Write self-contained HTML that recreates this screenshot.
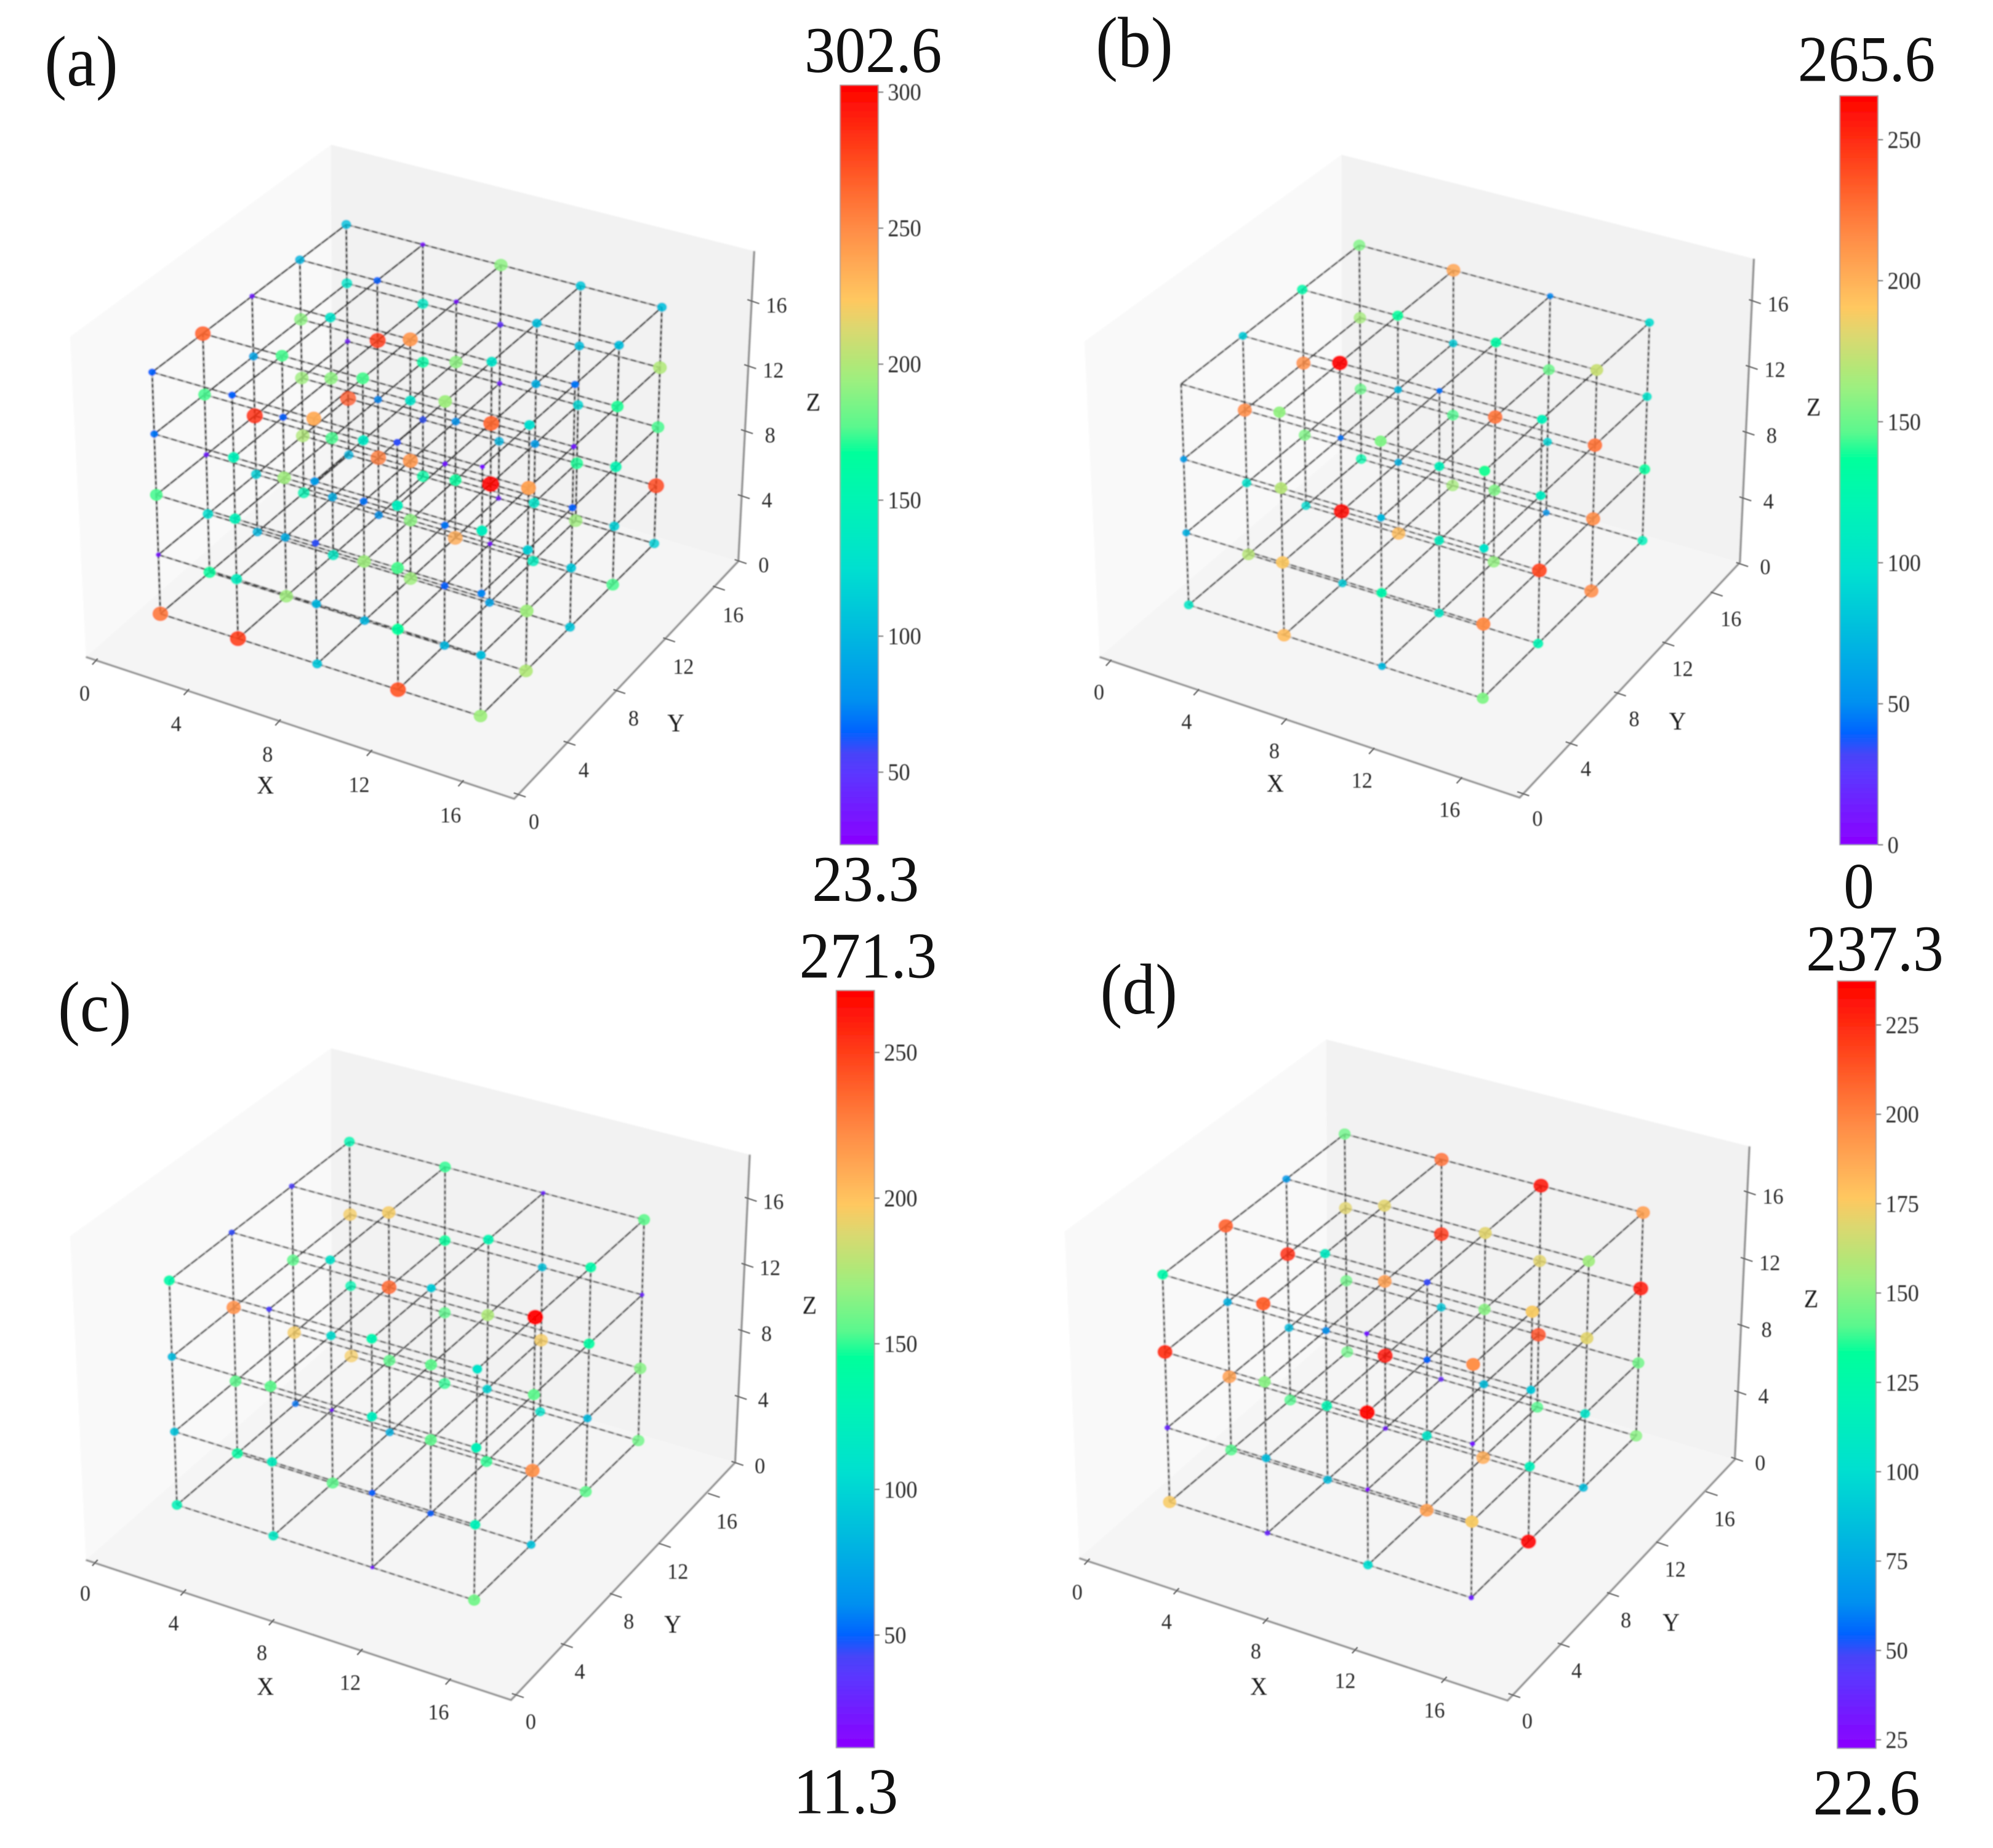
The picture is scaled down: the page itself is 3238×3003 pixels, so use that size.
<!DOCTYPE html>
<html lang="en">
<head>
<meta charset="utf-8">
<title>3D lattice node values, panels a to d</title>
<style>
html,body{margin:0;padding:0;background:#fff;}
svg{display:block;position:absolute;left:0;top:0;}
text{font-family:"Liberation Serif",serif;}
.big{font-size:96px;fill:#111;text-anchor:middle;}
.letter{font-size:104px;fill:#111;}
</style>
</head>
<body>
<svg id="chart" xmlns="http://www.w3.org/2000/svg" width="3238" height="3003" viewBox="0 0 3238 3003">
<defs>
<filter id="soft" x="-5%" y="-5%" width="110%" height="110%"><feGaussianBlur stdDeviation="1.1"/></filter>
<filter id="softText" x="-5%" y="-5%" width="110%" height="110%"><feGaussianBlur stdDeviation="0.8"/></filter>
</defs>
<rect width="3238" height="3003" fill="#fff"/>

<g id="panel-a" transform="translate(0,0) scale(1.034,0.96)">
<text class="letter" transform="translate(70,145) scale(1,1.17)">(a)</text>
<text class="big" transform="translate(1372,122) scale(1,1.15)">302.6</text>
<text class="big" transform="translate(1360,1525) scale(1,1.15)">23.3</text>
</g>
<g id="panel-b" transform="translate(1619,0) scale(1.034,0.96)">
<text class="letter" transform="translate(156,113) scale(1,1.17)">(b)</text>
<text class="big" transform="translate(1367,137) scale(1,1.15)">265.6</text>
<text class="big" transform="translate(1355,1537) scale(1,1.15)">0</text>
</g>
<g id="panel-c" transform="translate(0,1500) scale(1.034,0.96)">
<text class="letter" transform="translate(91,183) scale(1,1.17)">(c)</text>
<text class="big" transform="translate(1364,92) scale(1,1.15)">271.3</text>
<text class="big" transform="translate(1329,1507) scale(1,1.15)">11.3</text>
</g>
<g id="panel-d" transform="translate(1619,1500) scale(1.034,0.96)">
<text class="letter" transform="translate(163,153) scale(1,1.17)">(d)</text>
<text class="big" transform="translate(1380,80) scale(1,1.15)">237.3</text>
<text class="big" transform="translate(1367,1509) scale(1,1.15)">22.6</text>
</g>
</svg>

<script>
// Axis tick labels shared by the 3D axes
const axisTicks = [0, 4, 8, 12, 16];

// Colorbar limits [min, max]
const panelALimits = [23.3, 302.6];
const panelBLimits = [0, 265.6];
const panelCLimits = [11.3, 271.3];
const panelDLimits = [22.6, 237.3];

// Colorbar tick labels
const panelAColorTicks = [50, 100, 150, 200, 250, 300];
const panelBColorTicks = [0, 50, 100, 150, 200, 250];
const panelCColorTicks = [50, 100, 150, 200, 250];
const panelDColorTicks = [25, 50, 75, 100, 125, 150, 175, 200, 225];

// Node values: [x index][y index][z layer, top layer first]
const panelAValues = [
  [[65,70,175,30,260],[265,175,35,125,165],[35,90,285,115,100],[100,190,195,200,150],[105,130,35,270,100]],
  [[65,145,145,140,280],[175,65,195,95,195],[130,190,175,95,135],[65,280,75,255,80],[30,135,160,60,160]],
  [[235,85,60,100,110],[175,135,70,195,100],[245,130,245,190,195],[30,190,80,165,235],[190,45,35,100,35]],
  [[60,140,175,165,270],[195,35,70,65,100],[130,265,302,30,90],[105,95,85,130,140],[110,105,120,170,195]],
  [[30,140,75,105,195],[125,240,115,195,200],[70,35,65,110,110],[105,170,150,115,175],[105,200,175,275,115]]
];
const panelBValues = [
  [[0,60,70,105],[85,215,100,170],[125,215,155,95],[155,165,150,125]],
  [[160,170,190,195],[265,45,262,85],[135,75,70,195],[205,85,145,165]],
  [[155,75,125,75],[45,115,110,105],[130,225,155,160],[50,150,90,55]],
  [[140,100,215,155],[115,110,240,120],[175,225,215,215],[95,100,135,115]]
];
const panelCValues = [
  [[135,85,90,125],[45,220,155,140],[40,155,195,55],[130,195,130,195]],
  [[40,155,120,115],[110,105,20,155],[195,235,155,80],[150,145,155,150]],
  [[130,120,50,20],[95,155,155,50],[130,175,100,150],[25,90,195,110]],
  [[110,125,125,160],[271,155,220,90],[135,140,85,155],[155,25,165,160]]
];
const panelDValues = [
  [[125,225,35,175],[210,80,190,140],[70,225,85,140],[145,170,145,145]],
  [[210,150,85,35],[110,65,120,85],[170,190,232,30],[205,222,90,35]],
  [[30,235,23,100],[50,55,105,190],[170,150,85,185],[232,170,215,140]],
  [[195,30,175,33],[175,90,115,235],[155,170,105,85],[190,230,145,150]]
];

// Colormap stops: [fraction, red, green, blue]
const colormapStops = [
  [0, 139, 0, 255], [0.096, 90, 56, 255], [0.12, 72, 68, 248], [0.15, 0, 100, 255],
  [0.19, 0, 144, 240], [0.275, 0, 184, 224], [0.364, 0, 224, 208], [0.454, 0, 245, 180],
  [0.515, 0, 255, 156], [0.55, 90, 248, 142], [0.61, 156, 240, 128], [0.632, 176, 232, 120],
  [0.68, 220, 216, 112], [0.717, 255, 200, 96], [0.754, 255, 176, 88], [0.811, 255, 140, 70],
  [0.86, 255, 106, 48], [0.92, 255, 60, 24], [1, 255, 0, 0]
];

// Panel geometry (layout only), in panel-local units
const layoutA = {
  id:'panel-a', sizeK:1.55, lineOpacity:1,
  c000:[252,1039], c100:[755,1212], c110:[1028,920], c010:[548,770],
  c001:[239,630], c101:[758,790], c111:[1040,520], c011:[544,380],
  wall:{tf:[110,570],tb:[520,245],tr:[1185,425],br:[1160,950],ff:[135,1112],fr:[808,1352],back:[522,745]},
  xAxis:[[150,1119],[725,1325]], yAxis:[[815,1345],[1128,995]], zAxis:[[1162,950],[1182,510]],
  xLabel:[417,1343], yLabel:[1062,1238], zLabel:[1278,695],
  xOff:[-17,67], yOff:[24,58], zOff:[38,19],
  bar:[1320,144,60,1286]
};
const layoutB = {
  id:'panel-b', sizeK:1.55, lineOpacity:0.78,
  c000:[302,1024], c100:[764,1182], c110:[1015,915], c010:[573,777],
  c001:[290,650], c101:[767,797], c111:[1026,546], c011:[570,415],
  wall:{tf:[138,578],tb:[542,262],tr:[1190,438],br:[1168,952],ff:[162,1112],fr:[822,1350],back:[543,760]},
  xAxis:[[177,1121],[728,1320]], yAxis:[[826,1343],[1130,1005]], zAxis:[[1170,955],[1190,510]],
  xLabel:[438,1340], yLabel:[1070,1235], zLabel:[1284,703],
  xOff:[-16,63], yOff:[24,55], zOff:[38,17],
  bar:[1325,162,60,1268]
};
const layoutC = {
  id:'panel-c', sizeK:1.55, lineOpacity:0.78,
  c000:[278,985], c100:[745,1146], c110:[1003,876], c010:[552,733],
  c001:[266,605], c101:[750,755], c111:[1012,502], c011:[549,370],
  wall:{tf:[110,530],tb:[520,212],tr:[1178,392],br:[1155,913],ff:[135,1078],fr:[803,1315],back:[521,712]},
  xAxis:[[150,1082],[705,1283]], yAxis:[[812,1307],[1120,968]], zAxis:[[1157,914],[1178,467]],
  xLabel:[417,1306], yLabel:[1057,1201], zLabel:[1272,661],
  xOff:[-16,65], yOff:[22,57], zOff:[37,17],
  bar:[1314,114,60,1282]
};
const layoutD = {
  id:'panel-d', sizeK:1.6, lineOpacity:0.78,
  c000:[272,980], c100:[746,1142], c110:[1005,868], c010:[551,726],
  c001:[261,595], c101:[749,747], c111:[1016,490], c011:[547,357],
  wall:{tf:[107,522],tb:[518,197],tr:[1183,378],br:[1160,908],ff:[130,1075],fr:[803,1316],back:[520,705]},
  xAxis:[[143,1080],[704,1280]], yAxis:[[812,1307],[1122,965]], zAxis:[[1162,907],[1182,456]],
  xLabel:[412,1306], yLabel:[1060,1198], zLabel:[1280,650],
  xOff:[-16,65], yOff:[22,56], zOff:[38,19],
  bar:[1321,98,61,1299]
};

// Line styles per lattice direction
const edgeStyles = {
  x: { under:'#808080', underOpacity:0.55, underWidth:3.2, color:'#484848', dash:'9 5', width:2.8 },
  y: { under:'#5f5f5f', underOpacity:0.75, underWidth:3, color:'#363636', dash:'12 3', width:2.8 },
  z: { under:'#9c9c9c', underOpacity:0.65, underWidth:3.6, color:'#2e2e2e', dash:'6 4', width:3 }
};

const SVGNS = 'http://www.w3.org/2000/svg';
function make(tag, parent) {
  const el = document.createElementNS(SVGNS, tag);
  parent.appendChild(el);
  return el;
}

function colormap(t) {
  t = Math.max(0, Math.min(1, t));
  for (let i = 1; i < colormapStops.length; i++) {
    const b = colormapStops[i];
    if (t <= b[0]) {
      const a = colormapStops[i - 1];
      const f = (t - a[0]) / (b[0] - a[0]);
      return 'rgb(' + Math.round(a[1] + (b[1] - a[1]) * f) + ',' + Math.round(a[2] + (b[2] - a[2]) * f) + ',' + Math.round(a[3] + (b[3] - a[3]) * f) + ')';
    }
  }
  return 'rgb(255,0,0)';
}

function depthAt(u, v, w) {
  return 1 - 0.04 * u + 0.06 * v - 0.03 * w;
}

// Perspective-weighted map from lattice fractions to the screen
function project(layout, u, v, w) {
  const corners = [
    [0,0,0,layout.c000],[1,0,0,layout.c100],[1,1,0,layout.c110],[0,1,0,layout.c010],
    [0,0,1,layout.c001],[1,0,1,layout.c101],[1,1,1,layout.c111],[0,1,1,layout.c011]
  ];
  let sx = 0, sy = 0, sw = 0;
  corners.forEach(function (c) {
    const basis = (c[0] ? u : 1 - u) * (c[1] ? v : 1 - v) * (c[2] ? w : 1 - w);
    const weight = basis * depthAt(c[0], c[1], c[2]);
    sx += c[3][0] * weight;
    sy += c[3][1] * weight;
    sw += weight;
  });
  return [sx / sw, sy / sw];
}

function axisPoint(axis, value) {
  const t = value / 16;
  return [axis[0][0] + (axis[1][0] - axis[0][0]) * t, axis[0][1] + (axis[1][1] - axis[0][1]) * t];
}

function polyPoints(list) {
  return list.map(function (p) { return p[0] + ',' + p[1]; }).join(' ');
}

function drawPanes(layout, root) {
  const w = layout.wall;
  const leftWall = make('polygon', root);
  
  
  leftWall.setAttribute('points', polyPoints([w.tf, w.tb, w.back, w.ff]));
  leftWall.setAttribute('fill', '#f9f9f9');
  const backWall = make('polygon', root);
  
  
  backWall.setAttribute('points', polyPoints([w.tb, w.tr, w.br, w.back]));
  backWall.setAttribute('fill', '#f2f2f2');
  const floor = make('polygon', root);
  
  
  floor.setAttribute('points', polyPoints([w.ff, w.fr, w.br, w.back]));
  floor.setAttribute('fill', '#f5f5f5');
  const axisLine = make('polyline', root);
  
  
  axisLine.setAttribute('points', polyPoints([w.ff, w.fr, w.br, w.tr]));
  axisLine.setAttribute('fill', 'none');
  axisLine.setAttribute('stroke', '#858585');
  axisLine.setAttribute('stroke-width', '3');
}

function placeText(el, x, y) {
  el.setAttribute('transform', 'translate(' + x + ',' + y + ') scale(1,1.15)');
}

function drawTick(root, p, dx, dy, off, text) {
  const tick = make('line', root);
  
  
  tick.setAttribute('x1', p[0] - dx * 0.7);
  tick.setAttribute('y1', p[1] - dy * 0.7);
  tick.setAttribute('x2', p[0] + dx);
  tick.setAttribute('y2', p[1] + dy);
  tick.setAttribute('stroke', '#666');
  tick.setAttribute('stroke-width', '2.2');
  const label = make('text', root);
  
  
  placeText(label, p[0] + off[0], p[1] + off[1]);
  label.setAttribute('font-size', '33');
  label.setAttribute('fill', '#2a2a2a');
  label.setAttribute('text-anchor', 'middle');
  label.textContent = text;
}

function drawAxisTitle(root, p, text) {
  const title = make('text', root);
  
  
  placeText(title, p[0], p[1]);
  title.setAttribute('font-size', '37');
  title.setAttribute('fill', '#1c1c1c');
  title.setAttribute('text-anchor', 'middle');
  title.textContent = text;
}

function drawAxes(layout, root) {
  axisTicks.forEach(function (v) {
    drawTick(root, axisPoint(layout.xAxis, v), -5, 6, layout.xOff, String(v));
    drawTick(root, axisPoint(layout.yAxis, v), 11, 4, layout.yOff, String(v));
    drawTick(root, axisPoint(layout.zAxis, v), 11, 4, layout.zOff, String(v));
  });
  drawAxisTitle(root, layout.xLabel, 'X');
  drawAxisTitle(root, layout.yLabel, 'Y');
  drawAxisTitle(root, layout.zLabel, 'Z');
}

function drawEdge(layout, root, a, b, style) {
  const under = make('line', root);
  
  
  under.setAttribute('x1', a[0]);
  under.setAttribute('y1', a[1]);
  under.setAttribute('x2', b[0]);
  under.setAttribute('y2', b[1]);
  under.setAttribute('stroke', style.under);
  under.setAttribute('stroke-opacity', style.underOpacity * layout.lineOpacity);
  under.setAttribute('stroke-width', style.underWidth);
  const dash = make('line', root);
  
  
  dash.setAttribute('x1', a[0]);
  dash.setAttribute('y1', a[1]);
  dash.setAttribute('x2', b[0]);
  dash.setAttribute('y2', b[1]);
  dash.setAttribute('stroke', style.color);
  dash.setAttribute('stroke-opacity', layout.lineOpacity);
  dash.setAttribute('stroke-width', style.width);
  dash.setAttribute('stroke-dasharray', style.dash);
}

function drawLattice(layout, root, values, limits) {
  const n = values.length;
  const span = n - 1;
  const nodes = [];
  for (let i = 0; i < n; i++) {
    for (let j = 0; j < n; j++) {
      for (let k = 0; k < n; k++) {
        const zFrac = (span - k) / span;
        const p = project(layout, i / span, j / span, zFrac);
        nodes.push({ p: p, v: values[i][j][k], d: depthAt(i / span, j / span, zFrac) });
        if (i < span) drawEdge(layout, root, p, project(layout, (i + 1) / span, j / span, zFrac), edgeStyles.x);
        if (j < span) drawEdge(layout, root, p, project(layout, i / span, (j + 1) / span, zFrac), edgeStyles.y);
        if (k < span) drawEdge(layout, root, p, project(layout, i / span, j / span, (span - k - 1) / span), edgeStyles.z);
      }
    }
  }
  nodes.sort(function (a, b) { return b.d - a.d; });
  const nearest = depthAt(1, 0, 1);
  const farthest = depthAt(0, 1, 0);
  nodes.forEach(function (node) {
    const dot = make('circle', root);
    
    
    dot.setAttribute('cx', node.p[0]);
    dot.setAttribute('cy', node.p[1]);
    dot.setAttribute('r', layout.sizeK * Math.sqrt(Math.max(0, node.v)) / 2);
    dot.setAttribute('fill', colormap((node.v - limits[0]) / (limits[1] - limits[0])));
    dot.setAttribute('fill-opacity', 1 - 0.25 * (node.d - nearest) / (farthest - nearest));
  });
}

function drawColorbar(layout, root, limits, ticks) {
  const svg = document.getElementById('chart');
  const gradient = make('linearGradient', svg.querySelector('defs'));
  const gradientId = 'gradient-' + layout.id;
  gradient.setAttribute('id', gradientId);
  gradient.setAttribute('x1', '0');
  gradient.setAttribute('y1', '1');
  gradient.setAttribute('x2', '0');
  gradient.setAttribute('y2', '0');
  colormapStops.forEach(function (s) {
    const stop = make('stop', gradient);
    stop.setAttribute('offset', s[0]);
    stop.setAttribute('stop-color', 'rgb(' + s[1] + ',' + s[2] + ',' + s[3] + ')');
  });
  const b = layout.bar;
  const bar = make('rect', root);
  
  
  bar.setAttribute('x', b[0]);
  bar.setAttribute('y', b[1]);
  bar.setAttribute('width', b[2]);
  bar.setAttribute('height', b[3]);
  bar.setAttribute('fill', 'url(#' + gradientId + ')');
  bar.setAttribute('stroke', '#9a9a9a');
  bar.setAttribute('stroke-width', '1.5');
  ticks.forEach(function (v) {
    const y = b[1] + b[3] * (limits[1] - v) / (limits[1] - limits[0]);
    const mark = make('line', root);
    
    
    mark.setAttribute('x1', b[0] + b[2]);
    mark.setAttribute('y1', y);
    mark.setAttribute('x2', b[0] + b[2] + 8);
    mark.setAttribute('y2', y);
    mark.setAttribute('stroke', '#777');
    mark.setAttribute('stroke-width', '2');
    const label = make('text', root);
    
    
    placeText(label, b[0] + b[2] + 15, y + 13.5);
    label.setAttribute('font-size', '35');
    label.setAttribute('fill', '#2a2a2a');
    label.textContent = String(v);
  });
}

function drawPanel(layout, values, limits, colorTicks) {
  const panel = document.getElementById(layout.id);
  const first = panel.firstElementChild;
  const art = document.createElementNS(SVGNS, 'g');
  
  
  art.setAttribute('filter', 'url(#soft)');
  panel.insertBefore(art, first);
  const annotations = document.createElementNS(SVGNS, 'g');
  
  
  annotations.setAttribute('filter', 'url(#softText)');
  panel.insertBefore(annotations, first);
  drawPanes(layout, art);
  drawAxes(layout, annotations);
  drawLattice(layout, art, values, limits);
  drawColorbar(layout, annotations, limits, colorTicks);
}

drawPanel(layoutA, panelAValues, panelALimits, panelAColorTicks);
drawPanel(layoutB, panelBValues, panelBLimits, panelBColorTicks);
drawPanel(layoutC, panelCValues, panelCLimits, panelCColorTicks);
drawPanel(layoutD, panelDValues, panelDLimits, panelDColorTicks);
</script>
</body>
</html>
